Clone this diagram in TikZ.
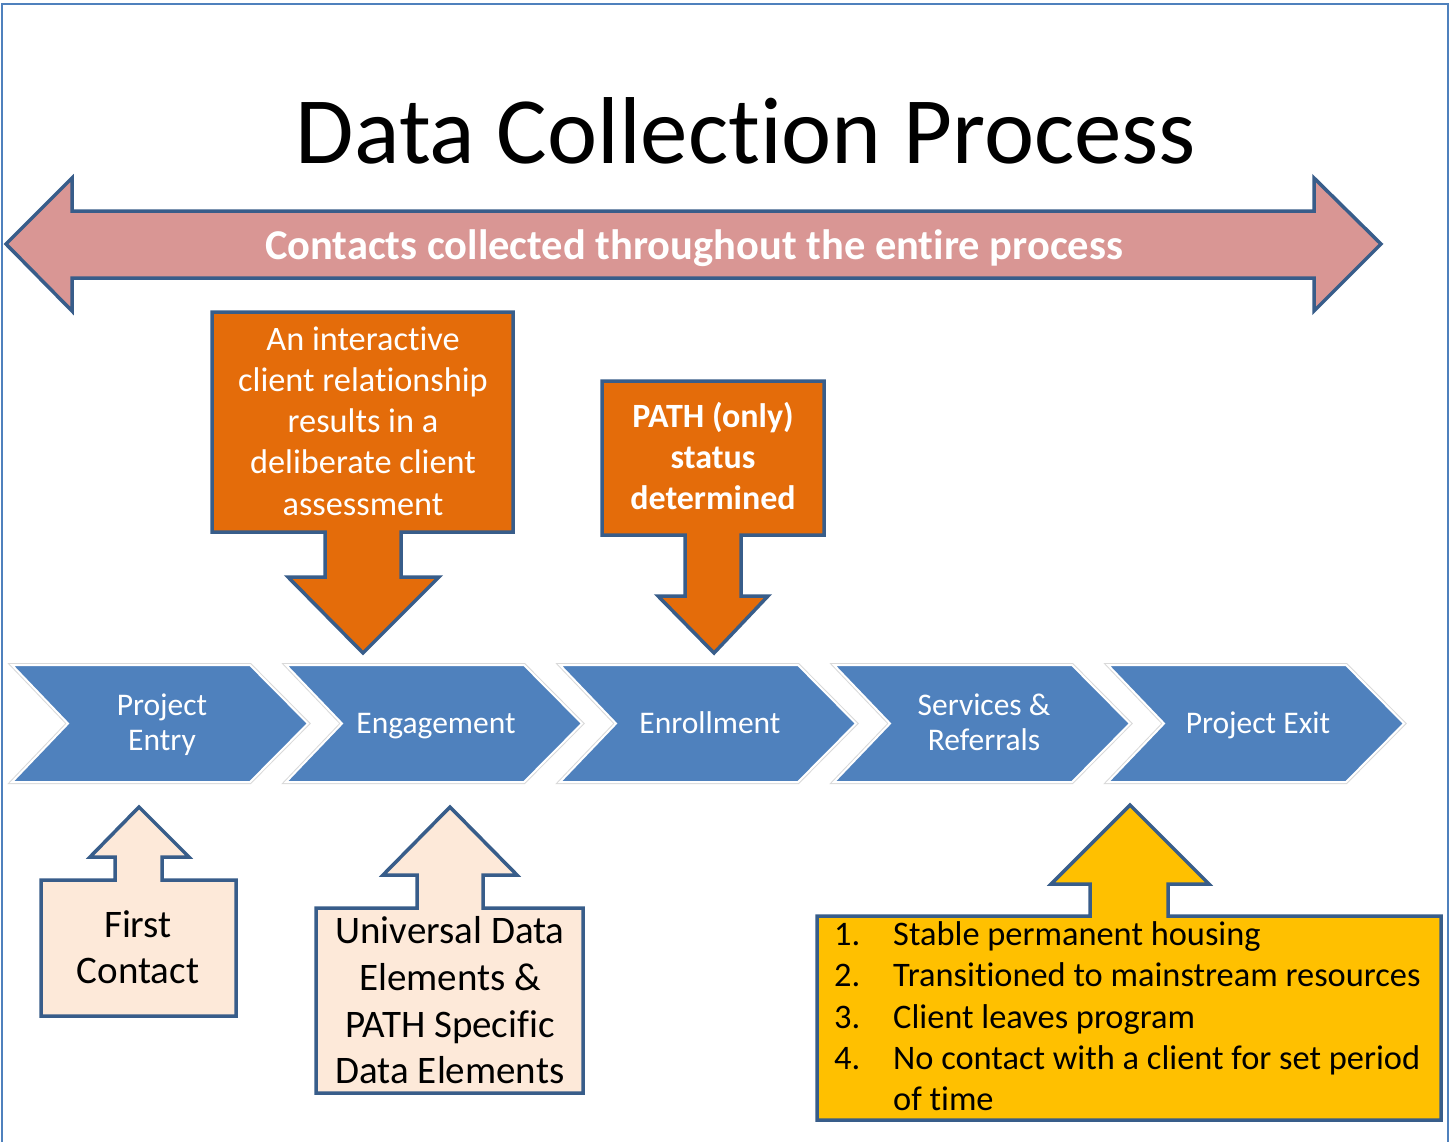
\documentclass[tikz,border=0pt]{standalone}
\usepackage{fontspec}
\setmainfont{Carlito}[Ligatures=NoCommon]
\definecolor{strokeblue}{RGB}{56,93,138}
\definecolor{framecol}{RGB}{79,129,189}
\definecolor{pinkc}{RGB}{217,150,148}
\definecolor{orangec}{RGB}{228,108,10}
\definecolor{chevc}{RGB}{79,129,189}
\definecolor{peachc}{RGB}{253,233,217}
\definecolor{yellowc}{RGB}{255,192,0}
\begin{document}
\begin{tikzpicture}[x=1pt,y=-1pt,line join=miter,
  edge/.style={draw=strokeblue,line width=3.5pt},
  chevtext/.style={text=white,font=\fontsize{31.5}{36}\selectfont,anchor=base,inner sep=0pt},
  oratext/.style={text=white,font=\fontsize{34.3}{41}\selectfont,anchor=base,inner sep=0pt},
  pathtext/.style={text=white,font=\fontsize{34}{41}\selectfont\bfseries,anchor=base,inner sep=0pt},
  peachtext/.style={text=black,font=\fontsize{39}{47}\selectfont,anchor=base,inner sep=0pt},
  yeltext/.style={text=black,font=\fontsize{34.4}{41}\selectfont,anchor=base west,inner sep=0pt}]
\useasboundingbox (0,0) rectangle (1451,1141);
\fill[white] (0,0) rectangle (1451,1141);
\draw[framecol,line width=2pt] (1.5,1145) -- (1.5,4) -- (1448,4) -- (1448,1145);

% title
\node[font=\fontsize{95}{110}\selectfont,anchor=base,inner sep=0pt] (title) at (746,163) {Data Collection Process};

% double arrow
\draw[edge,fill=pinkc] (6,244) -- (72,178) -- (72,211) -- (1314,211) -- (1314,178) -- (1381,244) -- (1314,311) -- (1314,278) -- (72,278) -- (72,311) -- cycle;
\node[font=\fontsize{42.5}{50}\selectfont\bfseries,text=white,anchor=base,inner sep=0pt] (contacts) at (694,259) {Contacts collected throughout the entire process};

% chevrons
\foreach \x in {12,286,560,834,1108}{
  \draw[black!15,line width=4pt] (\x,665) -- (\x+238,665) -- (\x+296,723.5) -- (\x+238,782) -- (\x,782) -- (\x+56,723.5) -- cycle;
  \draw[white,line width=2pt,fill=chevc] (\x,665) -- (\x+238,665) -- (\x+296,723.5) -- (\x+238,782) -- (\x,782) -- (\x+56,723.5) -- cycle;
}
\node[chevtext] (entry1) at (162,715) {Project};
\node[chevtext] (entry2) at (162,750) {Entry};
\node[chevtext] (engage) at (436,733) {Engagement};
\node[chevtext] (enroll) at (710,733) {Enrollment};
\node[chevtext] (serv1) at (984,715) {Services \&};
\node[chevtext] (serv2) at (984,750) {Referrals};
\node[chevtext] (exit) at (1258,733) {Project Exit};

% orange callout 1
\draw[edge,fill=orangec] (212,312) -- (513,312) -- (513,532) -- (401,532) -- (401,577) -- (439,577) -- (363,653) -- (288,577) -- (325,577) -- (325,532) -- (212,532) -- cycle;
\node[oratext] (o1a) at (363,350) {An interactive};
\node[oratext] (o1b) at (363,391) {client relationship};
\node[oratext] (o1c) at (363,432) {results in a};
\node[oratext] (o1d) at (363,473) {deliberate client};
\node[oratext] (o1e) at (363,515) {assessment};

% orange callout 2
\draw[edge,fill=orangec] (602,381) -- (824,381) -- (824,535) -- (741,535) -- (741,596) -- (768,596) -- (714,653) -- (658,596) -- (685,596) -- (685,535) -- (602,535) -- cycle;
\node[pathtext] (p1) at (713,427) {PATH (only)};
\node[pathtext] (p2) at (713,468) {status};
\node[pathtext] (p3) at (713,509) {determined};

% first contact callout
\draw[edge,fill=peachc] (41,880) -- (115,880) -- (115,857) -- (90,857) -- (139,807) -- (189,857) -- (162,857) -- (162,880) -- (236,880) -- (236,1016) -- (41,1016) -- cycle;
\node[peachtext] (fc1) at (138,937) {First};
\node[peachtext] (fc2) at (138,983) {Contact};

% UDE callout
\draw[edge,fill=peachc] (316,908) -- (417,908) -- (417,875) -- (383,875) -- (450,807) -- (517,875) -- (483,875) -- (483,908) -- (583,908) -- (583,1093) -- (316,1093) -- cycle;
\node[peachtext] (u1) at (450,943) {Universal Data};
\node[peachtext] (u2) at (450,990) {Elements \&};
\node[peachtext] (u3) at (450,1037) {PATH Specific};
\node[peachtext] (u4) at (450,1083) {Data Elements};

% exit callout
\draw[edge,fill=yellowc] (817,916) -- (1090,916) -- (1090,884) -- (1051,884) -- (1130,805) -- (1209,884) -- (1168,884) -- (1168,916) -- (1441,916) -- (1441,1120) -- (817,1120) -- cycle;
\node[yeltext] (n1) at (834,945) {1.};
\node[yeltext] (n2) at (834,986.5) {2.};
\node[yeltext] (n3) at (834,1028) {3.};
\node[yeltext] (n4) at (834,1069) {4.};
\node[yeltext] (t1) at (893,945) {Stable permanent housing};
\node[yeltext] (t2) at (893,986.5) {Transitioned to mainstream resources};
\node[yeltext] (t3) at (893,1028) {Client leaves program};
\node[yeltext] (t4) at (893,1069) {No contact with a client for set period};
\node[yeltext] (t5) at (893,1110) {of time};
\end{tikzpicture}
\end{document}
